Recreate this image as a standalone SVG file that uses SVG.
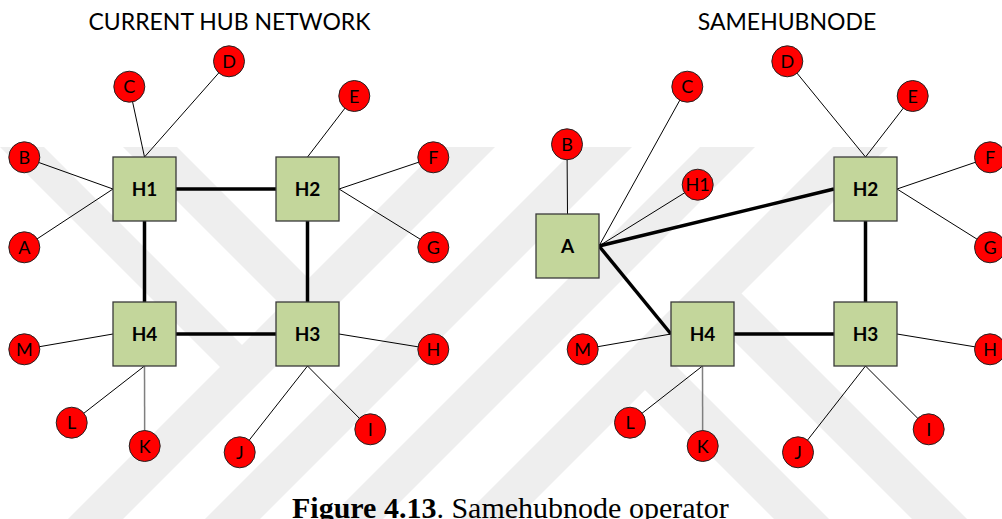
<svg xmlns="http://www.w3.org/2000/svg" width="1002" height="519" viewBox="0 0 1002 519">
<defs>
<style>
.wm{fill:#eeeeee}
.thin{stroke:#000;stroke-width:1;fill:none}
.gray{stroke:#7f7f7f;stroke-width:1.5;fill:none}
.thick{stroke:#000;stroke-width:3.5;fill:none}
.hub rect{fill:#c3d69b;stroke:#3a3a3a;stroke-width:1.3}
.hub text{font-family:Lato,"Open Sans",sans-serif;font-weight:bold;font-size:19px;fill:#000;text-anchor:middle}
.leaf circle{fill:#ff0000;stroke:#222;stroke-width:1}
.leaf text{font-family:Lato,"Open Sans",sans-serif;font-size:18px;fill:#000;text-anchor:middle}
.title{font-family:Lato,"Open Sans",sans-serif;font-size:23px;fill:#000;text-anchor:middle}
.cap{font-family:"Liberation Serif",serif;font-size:30px;fill:#000}
</style>
<clipPath id="wmclip"><rect x="0" y="147" width="1002" height="372"/></clipPath>
</defs>
<rect width="1002" height="519" fill="#fff"/>
<g id="watermark" clip-path="url(#wmclip)">
<polygon class="wm" points="0,147 44,147 255.5,358.5 233.5,380.5"/>
<polygon class="wm" points="440,147 495,147 123,519 68,519"/>
<polygon class="wm" points="123,147 177,147 322,292 295,319"/>
<polygon class="wm" points="577,147 632,147 260,519 205,519"/>
<polygon class="wm" points="700,147 755,147 383,519 328,519"/>
<polygon class="wm" points="833,147 888,147 516,519 461,519"/>
<polygon class="wm" points="631,376 658.5,348.5 829,519 774,519"/>
<polygon class="wm" points="700,307 727.5,279.5 967,519 912,519"/>
</g>
<text class="title" x="229.5" y="30">CURRENT HUB NETWORK</text>
<text class="title" x="787" y="30">SAMEHUBNODE</text>
<g id="connectors">
<line class="thin" x1="129.3" y1="86.7" x2="144.5" y2="157"/>
<line class="thin" x1="229" y1="61.3" x2="144.5" y2="157"/>
<line class="thin" x1="24.3" y1="157.3" x2="113" y2="189"/>
<line class="thin" x1="24.3" y1="247.3" x2="113" y2="189"/>
<line class="thin" x1="354.3" y1="96" x2="307.5" y2="157"/>
<line class="thin" x1="433.3" y1="157.3" x2="339" y2="189"/>
<line class="thin" x1="433.3" y1="247.3" x2="339" y2="189"/>
<line class="thin" x1="24.3" y1="349.3" x2="113" y2="334"/>
<line class="thin" x1="71.7" y1="422.7" x2="144.5" y2="366"/>
<line class="gray" x1="144.7" y1="446" x2="144.5" y2="366"/>
<line class="thin" x1="433.3" y1="349.3" x2="339" y2="334"/>
<line class="thin" x1="239.7" y1="452.3" x2="307.5" y2="366"/>
<line class="thin" x1="370.3" y1="429.3" x2="307.5" y2="366"/>
<line class="thick" x1="176" y1="189" x2="276" y2="189"/>
<line class="thick" x1="144.5" y1="221" x2="144.5" y2="302"/>
<line class="thick" x1="307.5" y1="221" x2="307.5" y2="302"/>
<line class="thick" x1="176" y1="334" x2="276" y2="334"/>
<line class="thin" x1="567" y1="144.3" x2="567.5" y2="214"/>
<line class="thin" x1="687.3" y1="86.7" x2="599" y2="246"/>
<line class="thin" x1="697.7" y1="184.7" x2="599" y2="246"/>
<line class="thin" x1="787.3" y1="61.3" x2="865.5" y2="157"/>
<line class="thin" x1="912.7" y1="96" x2="865.5" y2="157"/>
<line class="thin" x1="990" y1="157.3" x2="897" y2="189"/>
<line class="thin" x1="990" y1="247.3" x2="897" y2="189"/>
<line class="thin" x1="582.7" y1="349.3" x2="671" y2="334"/>
<line class="thin" x1="630" y1="422.7" x2="702.5" y2="366"/>
<line class="gray" x1="702.7" y1="446" x2="702.5" y2="366"/>
<line class="thin" x1="990" y1="349.3" x2="897" y2="334"/>
<line class="thin" x1="798" y1="452.3" x2="865.5" y2="366"/>
<line class="thin" x1="928.7" y1="429.3" x2="865.5" y2="366"/>
<line class="thick" x1="599" y1="246" x2="834" y2="189"/>
<line class="thick" x1="599" y1="246" x2="671" y2="334"/>
<line class="thick" x1="865.5" y1="221" x2="865.5" y2="302"/>
<line class="thick" x1="734" y1="334" x2="834" y2="334"/>
</g>
<g id="L-H1" class="hub"><rect x="113" y="157" width="63" height="64"/><text x="144.5" y="196">H1</text></g>
<g id="L-H2" class="hub"><rect x="276" y="157" width="63" height="64"/><text x="307.5" y="196">H2</text></g>
<g id="L-H4" class="hub"><rect x="113" y="302" width="63" height="64"/><text x="144.5" y="341">H4</text></g>
<g id="L-H3" class="hub"><rect x="276" y="302" width="63" height="64"/><text x="307.5" y="341">H3</text></g>
<g id="L-A" class="leaf"><circle cx="24.3" cy="247.3" r="15.5"/><text x="24.3" y="253.8">A</text></g>
<g id="L-B" class="leaf"><circle cx="24.3" cy="157.3" r="15.5"/><text x="24.3" y="163.8">B</text></g>
<g id="L-C" class="leaf"><circle cx="129.3" cy="86.7" r="15.5"/><text x="129.3" y="93.2">C</text></g>
<g id="L-D" class="leaf"><circle cx="229" cy="61.3" r="15.5"/><text x="229" y="67.8">D</text></g>
<g id="L-E" class="leaf"><circle cx="354.3" cy="96" r="15.5"/><text x="354.3" y="102.5">E</text></g>
<g id="L-F" class="leaf"><circle cx="433.3" cy="157.3" r="15.5"/><text x="433.3" y="163.8">F</text></g>
<g id="L-G" class="leaf"><circle cx="433.3" cy="247.3" r="15.5"/><text x="433.3" y="253.8">G</text></g>
<g id="L-H" class="leaf"><circle cx="433.3" cy="349.3" r="15.5"/><text x="433.3" y="355.8">H</text></g>
<g id="L-I" class="leaf"><circle cx="370.3" cy="429.3" r="15.5"/><text x="370.3" y="435.8">I</text></g>
<g id="L-J" class="leaf"><circle cx="239.7" cy="452.3" r="15.5"/><text x="239.7" y="458.8">J</text></g>
<g id="L-K" class="leaf"><circle cx="144.7" cy="446" r="15.5"/><text x="144.7" y="452.5">K</text></g>
<g id="L-L" class="leaf"><circle cx="71.7" cy="422.7" r="15.5"/><text x="71.7" y="429.2">L</text></g>
<g id="L-M" class="leaf"><circle cx="24.3" cy="349.3" r="15.5"/><text x="24.3" y="355.8">M</text></g>
<g id="R-A" class="hub"><rect x="536" y="214" width="63" height="64"/><text x="567.5" y="253">A</text></g>
<g id="R-H2" class="hub"><rect x="834" y="157" width="63" height="64"/><text x="865.5" y="196">H2</text></g>
<g id="R-H4" class="hub"><rect x="671" y="302" width="63" height="64"/><text x="702.5" y="341">H4</text></g>
<g id="R-H3" class="hub"><rect x="834" y="302" width="63" height="64"/><text x="865.5" y="341">H3</text></g>
<g id="R-B" class="leaf"><circle cx="567" cy="144.3" r="15.5"/><text x="567" y="150.8">B</text></g>
<g id="R-C" class="leaf"><circle cx="687.3" cy="86.7" r="15.5"/><text x="687.3" y="93.2">C</text></g>
<g id="R-H1" class="leaf"><circle cx="697.7" cy="184.7" r="15.5"/><text x="697.7" y="191.2">H1</text></g>
<g id="R-D" class="leaf"><circle cx="787.3" cy="61.3" r="15.5"/><text x="787.3" y="67.8">D</text></g>
<g id="R-E" class="leaf"><circle cx="912.7" cy="96" r="15.5"/><text x="912.7" y="102.5">E</text></g>
<g id="R-F" class="leaf"><circle cx="990" cy="157.3" r="15.5"/><text x="990" y="163.8">F</text></g>
<g id="R-G" class="leaf"><circle cx="990" cy="247.3" r="15.5"/><text x="990" y="253.8">G</text></g>
<g id="R-H" class="leaf"><circle cx="990" cy="349.3" r="15.5"/><text x="990" y="355.8">H</text></g>
<g id="R-I" class="leaf"><circle cx="928.7" cy="429.3" r="15.5"/><text x="928.7" y="435.8">I</text></g>
<g id="R-J" class="leaf"><circle cx="798" cy="452.3" r="15.5"/><text x="798" y="458.8">J</text></g>
<g id="R-K" class="leaf"><circle cx="702.7" cy="446" r="15.5"/><text x="702.7" y="452.5">K</text></g>
<g id="R-L" class="leaf"><circle cx="630" cy="422.7" r="15.5"/><text x="630" y="429.2">L</text></g>
<g id="R-M" class="leaf"><circle cx="582.7" cy="349.3" r="15.5"/><text x="582.7" y="355.8">M</text></g>
<text class="cap" x="292" y="518"><tspan font-weight="bold">Figure 4.13</tspan>. Samehubnode operator</text>
</svg>
